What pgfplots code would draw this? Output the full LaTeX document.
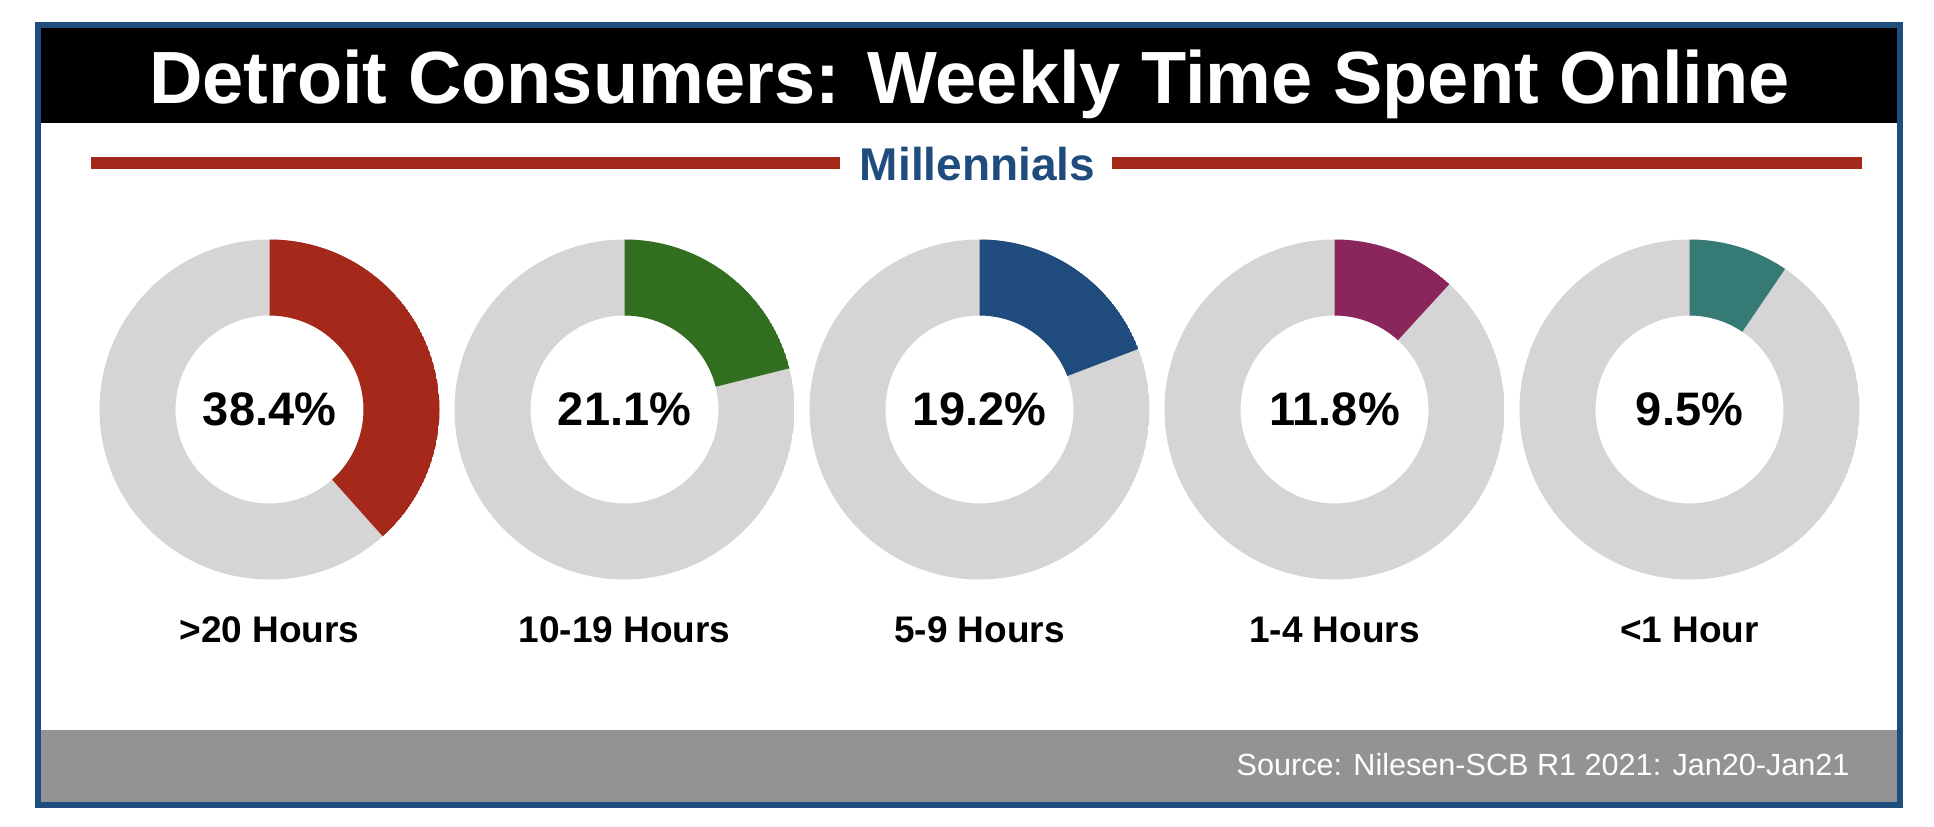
\documentclass[border=0pt]{standalone}
\usepackage{pgfplots}
\pgfplotsset{compat=1.18}
\usepackage{pgfplotstable}
\usetikzlibrary{calc}
\usepackage{fontspec}
\setmainfont{Liberation Sans}

\definecolor{c0}{HTML}{A5291A}
\definecolor{c1}{HTML}{316E1F}
\definecolor{c2}{HTML}{1F4C7D}
\definecolor{c3}{HTML}{8B265C}
\definecolor{c4}{HTML}{367A76}
\definecolor{cred}{HTML}{A5291A}
\definecolor{cblue}{HTML}{1F4C7D}
\definecolor{cring}{HTML}{D5D5D5}
\definecolor{cfoot}{HTML}{939393}
\definecolor{cframe}{HTML}{1F4E7E}

% share of millennials per weekly time online
\pgfplotstableread{
x y v
0 0 38.4
1 0 21.1
2 0 19.2
3 0 11.8
4 0 9.5
}\donuts

\def\Ro{85pt}
\def\Ri{47pt}

\begin{document}
\begin{tikzpicture}
\begin{scope}[x=0.5pt, y=-0.5pt]
  \path (0,0) rectangle (1934,826);
  \fill[black] (41,28) rectangle (1897,123);
  \fill[cfoot] (41,730) rectangle (1897,802);
  \draw[cframe, line width=3pt] (38,25) rectangle (1900,804.5);
  \fill[cred] (91,157) rectangle (840,169);
  \fill[cred] (1112,157) rectangle (1862,169);
  \node[anchor=base, text=white, inner sep=0pt, font=\fontsize{37}{40}\selectfont\bfseries]
    at (969.5,103) {Detroit Consumers: Weekly Time Spent Online};
  \node[anchor=base, text=cblue, inner sep=0pt, font=\fontsize{23}{26}\selectfont\bfseries]
    at (977.5,180) {Millennials};
  \node[anchor=base east, text=white, inner sep=0pt, font=\fontsize{15.3}{18}\selectfont]
    at (1850,775) {Source: Nilesen-SCB R1 2021: Jan20-Jan21};
\end{scope}

\begin{axis}[
  at={(46pt,-290pt)}, anchor=south west,
  scale only axis, width=887.5pt, height=170.5pt,
  xmin=-0.5, xmax=4.5, ymin=-1, ymax=1,
  clip=false,
  axis line style={draw=none},
  tick style={draw=none},
  ytick=\empty,
  xtick={0,1,2,3,4},
  xticklabels={>20 Hours, 10-19 Hours, 5-9 Hours, 1-4 Hours, <1 Hour},
  xticklabel style={anchor=base, yshift=-31pt, font=\fontsize{18.5}{20}\selectfont\bfseries},
  /pgf/number format/assume math mode=true,
]
\addplot[
  draw=none, mark=none,
  point meta=explicit,
  visualization depends on={\thisrow{v}\as\val},
  visualization depends on={\thisrow{x}\as\idx},
  nodes near coords={\pgfmathprintnumber[fixed, fixed zerofill, precision=1]{\pgfplotspointmeta}\%},
  every node near coord/.append style={
    anchor=center, circle, minimum size=170pt, inner sep=0pt, text=black,
    font=\fontsize{23.5}{26}\selectfont\bfseries,
    path picture={
      \pgfmathtruncatemacro\k{\idx}
      \coordinate (ctr) at (path picture bounding box.center);
      \fill[cring, even odd rule] (ctr) circle[radius=\Ro] (ctr) circle[radius=\Ri];
      \fill[fill=c\k] ($(ctr)+(90:\Ro)$) arc[start angle=90, end angle={90-3.6*\val}, radius=\Ro]
        -- ($(ctr)+({90-3.6*\val}:\Ri)$) arc[start angle={90-3.6*\val}, end angle=90, radius=\Ri] -- cycle;
    },
  },
] table[x=x, y=y, meta=v] {\donuts};
\end{axis}
\end{tikzpicture}
\end{document}
